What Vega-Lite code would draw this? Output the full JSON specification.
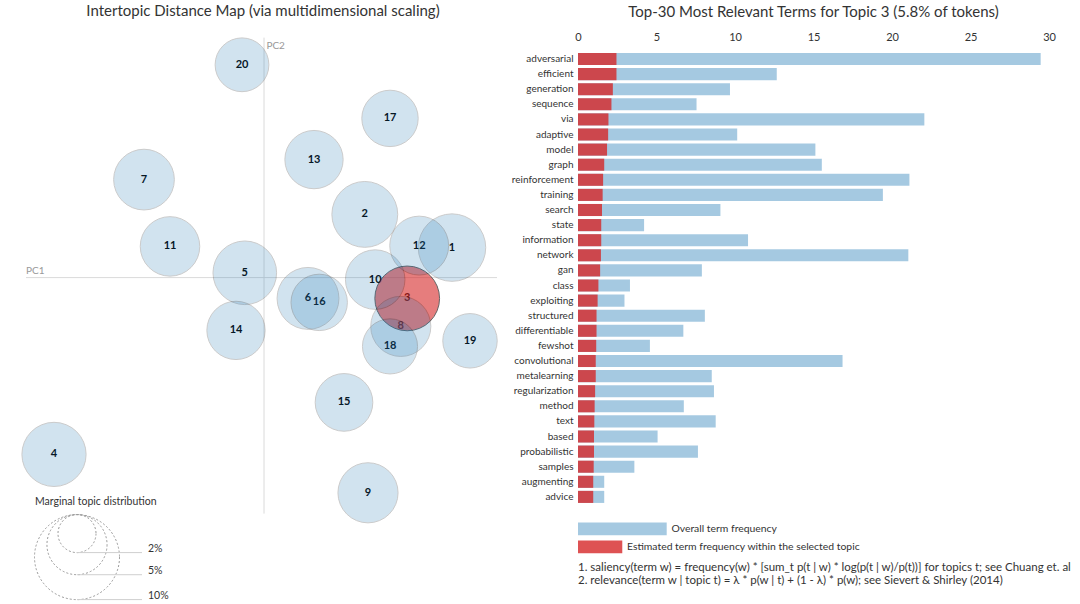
{
  "$schema": "https://vega.github.io/schema/vega-lite/v6.json",
  "padding": {"left": 0, "top": 3, "right": 0, "bottom": 0},
  "background": "white",
  "spacing": 11,
  "config": {
    "view": {"stroke": null},
    "font": "Lato",
    "text": {"font": "Lato"},
    "axis": {"labelFont": "Lato", "labelColor": "#333", "labelFontSize": 11},
    "title": {"font": "Lato", "fontSize": 15, "fontWeight": "normal", "color": "#333"}
  },
  "datasets": {
    "topics": [
      {"topic": 1, "x": 0.235, "y": 0.0375, "share": 6.3},
      {"topic": 2, "x": 0.126, "y": 0.079, "share": 6.0},
      {"topic": 3, "x": 0.179, "y": -0.026, "share": 5.8},
      {"topic": 4, "x": -0.2625, "y": -0.221, "share": 5.7},
      {"topic": 5, "x": -0.024, "y": 0.006, "share": 5.6},
      {"topic": 6, "x": 0.055, "y": -0.026, "share": 5.3},
      {"topic": 7, "x": -0.15, "y": 0.1225, "share": 5.1},
      {"topic": 8, "x": 0.171, "y": -0.061, "share": 5.0},
      {"topic": 9, "x": 0.13, "y": -0.269, "share": 5.0},
      {"topic": 10, "x": 0.139, "y": -0.0025, "share": 4.9},
      {"topic": 11, "x": -0.1175, "y": 0.039, "share": 4.9},
      {"topic": 12, "x": 0.194, "y": 0.04, "share": 4.8},
      {"topic": 13, "x": 0.0625, "y": 0.1475, "share": 4.7},
      {"topic": 14, "x": -0.035, "y": -0.066, "share": 4.7},
      {"topic": 15, "x": 0.1, "y": -0.156, "share": 4.6},
      {"topic": 16, "x": 0.069, "y": -0.031, "share": 4.4},
      {"topic": 17, "x": 0.1575, "y": 0.199, "share": 4.4},
      {"topic": 18, "x": 0.1575, "y": -0.086, "share": 4.2},
      {"topic": 19, "x": 0.2575, "y": -0.079, "share": 4.1},
      {"topic": 20, "x": -0.0275, "y": 0.266, "share": 4.0}
    ],
    "pcaxes": [
      {"x": -0.2975, "x2": 0.29125, "y": 0, "y2": 0},
      {"x": 0, "x2": 0, "y": 0.3, "y2": -0.295}
    ],
    "pclabels": [
      {"label": "PC1", "x": -0.2975, "y": 0.0085},
      {"label": "PC2", "x": 0.003, "y": 0.29}
    ],
    "legendtitle": [
      {"label": "Marginal topic distribution", "x": -0.28625, "y": -0.28}
    ],
    "sizelegend": [
      {"share": 2, "label": "2%", "x": -0.23375, "y": -0.32, "ly": -0.34375, "x2": -0.1525, "tx": -0.145},
      {"share": 5, "label": "5%", "x": -0.23375, "y": -0.3338, "ly": -0.3714, "x2": -0.1525, "tx": -0.145},
      {"share": 10, "label": "10%", "x": -0.23375, "y": -0.3494, "ly": -0.4025, "x2": -0.1525, "tx": -0.145}
    ],
    "terms": [
      {"term": "adversarial", "total": 29.47, "topicfreq": 2.45},
      {"term": "efficient", "total": 12.66, "topicfreq": 2.45},
      {"term": "generation", "total": 9.68, "topicfreq": 2.22},
      {"term": "sequence", "total": 7.55, "topicfreq": 2.13},
      {"term": "via", "total": 22.06, "topicfreq": 1.94},
      {"term": "adaptive", "total": 10.14, "topicfreq": 1.92},
      {"term": "model", "total": 15.12, "topicfreq": 1.85},
      {"term": "graph", "total": 15.53, "topicfreq": 1.67},
      {"term": "reinforcement", "total": 21.11, "topicfreq": 1.6},
      {"term": "training", "total": 19.42, "topicfreq": 1.57},
      {"term": "search", "total": 9.07, "topicfreq": 1.53},
      {"term": "state", "total": 4.21, "topicfreq": 1.48},
      {"term": "information", "total": 10.83, "topicfreq": 1.48},
      {"term": "network", "total": 21.04, "topicfreq": 1.46},
      {"term": "gan", "total": 7.89, "topicfreq": 1.41},
      {"term": "class", "total": 3.31, "topicfreq": 1.3},
      {"term": "exploiting", "total": 2.96, "topicfreq": 1.25},
      {"term": "structured", "total": 8.08, "topicfreq": 1.18},
      {"term": "differentiable", "total": 6.71, "topicfreq": 1.18},
      {"term": "fewshot", "total": 4.58, "topicfreq": 1.16},
      {"term": "convolutional", "total": 16.85, "topicfreq": 1.13},
      {"term": "metalearning", "total": 8.52, "topicfreq": 1.13},
      {"term": "regularization", "total": 8.66, "topicfreq": 1.09},
      {"term": "method", "total": 6.74, "topicfreq": 1.06},
      {"term": "text", "total": 8.77, "topicfreq": 1.04},
      {"term": "based", "total": 5.07, "topicfreq": 1.02},
      {"term": "probabilistic", "total": 7.64, "topicfreq": 1.02},
      {"term": "samples", "total": 3.59, "topicfreq": 1.0},
      {"term": "augmenting", "total": 1.67, "topicfreq": 0.97},
      {"term": "advice", "total": 1.67, "topicfreq": 0.97}
    ],
    "barlegend": [
      {"label": "Overall term frequency", "kind": "overall", "x0": 0, "x1": 5.65, "y0": 32.15, "y1": 32.99, "tx": 5.95, "ty": 32.57},
      {"label": "Estimated term frequency within the selected topic", "kind": "topic", "x0": 0, "x1": 2.82, "y0": 33.34, "y1": 34.19, "tx": 3.12, "ty": 33.77}
    ],
    "footnotes": [
      {"label": "1. saliency(term w) = frequency(w) * [sum_t p(t | w) * log(p(t | w)/p(t))] for topics t; see Chuang et. al (2012)", "tx": 0, "ty": 35.15},
      {"label": "2. relevance(term w | topic t) = λ * p(w | t) + (1 - λ) * p(w); see Sievert & Shirley (2014)", "tx": 0, "ty": 36.05}
    ]
  },
  "hconcat": [
    {
      "width": 500,
      "height": 557,
      "title": {"text": "Intertopic Distance Map (via multidimensional scaling)", "offset": 17, "dx": 13, "anchor": "middle"},
      "encoding": {
        "x": {"field": "x", "type": "quantitative", "scale": {"domain": [-0.33, 0.295], "nice": false, "zero": false}, "axis": null},
        "y": {"field": "y", "type": "quantitative", "scale": {"domain": [-0.40425, 0.292], "nice": false, "zero": false}, "axis": null}
      },
      "layer": [
        {"data": {"name": "pcaxes"}, "mark": {"type": "rule", "color": "#dadada", "strokeWidth": 1},
         "encoding": {"x2": {"field": "x2"}, "y2": {"field": "y2"}}},
        {"data": {"name": "pclabels"}, "mark": {"type": "text", "align": "left", "baseline": "middle", "fontSize": 10, "color": "#999"},
         "encoding": {"text": {"field": "label"}}},
        {"data": {"name": "topics"}, "mark": {"type": "text", "fontSize": 11, "fontWeight": "bold", "color": "#000", "align": "center", "baseline": "middle"},
         "encoding": {"text": {"field": "topic", "type": "nominal"}}},
        {"data": {"name": "topics"}, "mark": {"type": "circle", "stroke": "black", "strokeWidth": 1},
         "encoding": {
           "size": {"field": "share", "type": "quantitative", "scale": {"domain": [0, 10], "range": [0, 7225]}, "legend": null},
           "color": {"condition": {"test": "datum.topic === 3", "value": "#d62728"}, "value": "#1f77b4"},
           "opacity": {"condition": {"test": "datum.topic === 3", "value": 0.6}, "value": 0.2}
         }},
        {"data": {"name": "legendtitle"}, "mark": {"type": "text", "align": "left", "baseline": "middle", "fontSize": 10.5, "color": "#333"},
         "encoding": {"text": {"field": "label"}}},
        {"data": {"name": "sizelegend"}, "mark": {"type": "point", "shape": "circle", "filled": false, "stroke": "#999", "strokeDash": [2, 2], "strokeWidth": 1, "opacity": 1},
         "encoding": {"size": {"field": "share", "type": "quantitative", "scale": {"domain": [0, 10], "range": [0, 7225]}, "legend": null}}},
        {"data": {"name": "sizelegend"}, "mark": {"type": "rule", "color": "#cfcfcf", "strokeWidth": 1},
         "encoding": {"y": {"field": "ly", "type": "quantitative"}, "x2": {"field": "x2"}}},
        {"data": {"name": "sizelegend"}, "mark": {"type": "text", "align": "left", "baseline": "alphabetic", "fontSize": 10.5, "color": "#333", "dy": -1},
         "encoding": {"x": {"field": "tx", "type": "quantitative"}, "y": {"field": "ly", "type": "quantitative"}, "text": {"field": "label"}}}
      ]
    },
    {
      "width": 471,
      "height": 557,
      "title": {"text": "Top-30 Most Relevant Terms for Topic 3 (5.8% of tokens)", "offset": 11, "anchor": "middle"},
      "layer": [
        {
          "data": {"name": "terms"},
          "transform": [{"fold": ["total", "topicfreq"], "as": ["series", "value"]}],
          "mark": {"type": "bar"},
          "encoding": {
            "y": {"field": "term", "type": "nominal", "sort": null,
                  "scale": {"paddingInner": 0.2, "paddingOuter": 0.1, "range": [7.45, 460.45]},
                  "axis": {"title": null, "domain": false, "ticks": false, "labelPadding": 5, "labelFontSize": 10}},
            "x": {"field": "value", "type": "quantitative", "stack": null, "scale": {"domain": [0, 30], "nice": false},
                  "axis": {"orient": "top", "title": null, "grid": false, "domain": false, "ticks": false, "tickCount": 6, "labelFlush": false}},
            "color": {"condition": {"test": "datum.series === 'topicfreq'", "value": "#d62728"}, "value": "#1f77b4"},
            "opacity": {"condition": {"test": "datum.series === 'topicfreq'", "value": 0.8}, "value": 0.4}
          }
        },
        {
          "layer": [
            {"data": {"name": "barlegend"}, "mark": {"type": "rect"},
             "encoding": {
               "x": {"field": "x0", "type": "quantitative"},
               "x2": {"field": "x1"},
               "y": {"field": "y0", "type": "quantitative", "scale": {"domain": [0.4636, 37.35], "reverse": true, "nice": false, "zero": false}, "axis": null},
               "y2": {"field": "y1"},
               "color": {"condition": {"test": "datum.kind === 'topic'", "value": "#d62728"}, "value": "#1f77b4"},
               "opacity": {"condition": {"test": "datum.kind === 'topic'", "value": 0.8}, "value": 0.4}
             }},
            {"data": {"name": "barlegend"}, "mark": {"type": "text", "align": "left", "baseline": "middle", "fontSize": 10.4, "color": "#333"},
             "encoding": {
               "x": {"field": "tx", "type": "quantitative"},
               "y": {"field": "ty", "type": "quantitative", "scale": {"domain": [0.4636, 37.35], "reverse": true, "nice": false, "zero": false}, "axis": null},
               "text": {"field": "label"}
             }},
            {"data": {"name": "footnotes"}, "mark": {"type": "text", "align": "left", "baseline": "middle", "fontSize": 11.5, "color": "#333", "limit": 502, "ellipsis": " "},
             "encoding": {
               "x": {"field": "tx", "type": "quantitative"},
               "y": {"field": "ty", "type": "quantitative", "scale": {"domain": [0.4636, 37.35], "reverse": true, "nice": false, "zero": false}, "axis": null},
               "text": {"field": "label"}
             }}
          ]
        }
      ],
      "resolve": {"scale": {"y": "independent"}, "axis": {"y": "independent"}}
    }
  ]
}
